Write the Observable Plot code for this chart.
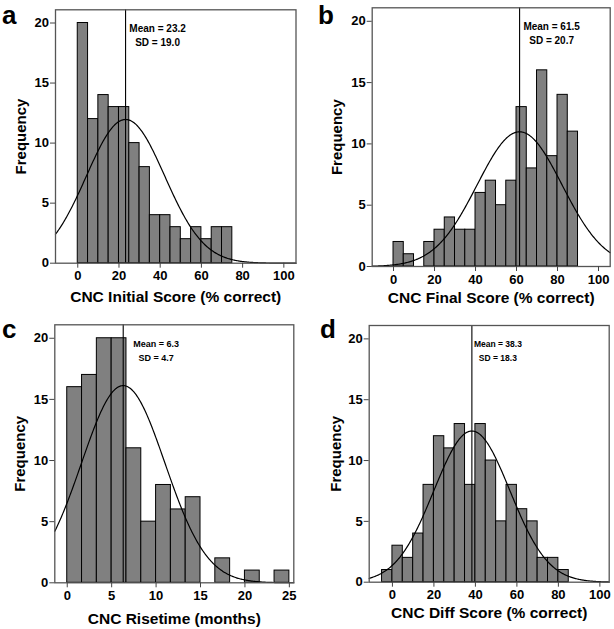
<!DOCTYPE html>
<html><head><meta charset="utf-8">
<script src="https://cdn.jsdelivr.net/npm/d3@7"></script>
<script src="https://cdn.jsdelivr.net/npm/@observablehq/plot@0.6"></script>
<style>
body{margin:0;background:#fff;}
#wrap{position:relative;width:614px;height:629px;font-family:"Liberation Sans",Arial,sans-serif;background:#fff;}
.panel{position:absolute;}
.letter{position:absolute;font-weight:bold;font-size:26px;line-height:normal;color:#000;}
</style></head><body><div id="wrap"></div>
<script>
// ---- data ----
const panelLetters = ["a", "b", "c", "d"];
const xLabels = ["CNC Initial Score (% correct)", "CNC Final Score (% correct)", "CNC Risetime (months)", "CNC Diff Score (% correct)"];
const means = [23.2, 61.5, 6.3, 38.3];
const sds = [19.0, 20.7, 4.7, 18.3];
const binStarts = [0, 0, 0, -5];
const binWidths = [5, 5, 5 / 3, 5];
const initialCounts = [20, 12, 14, 13, 13, 10, 8, 4, 4, 3, 2, 3, 2, 3, 3];
const finalCounts = [2, 1, 0, 2, 3, 4, 3, 3, 6, 7, 5, 7, 13, 8, 16, 9, 14, 11];
const risetimeCounts = [16, 17, 20, 20, 11, 5, 8, 6, 7, 0, 2, 0, 1, 0, 1];
const diffCounts = [1, 3, 2, 4, 8, 12, 11, 13, 8, 13, 10, 5, 8, 6, 5, 2, 2, 1];
const scoreTicks = [0, 20, 40, 60, 80, 100];
const risetimeTicks = [0, 5, 10, 15, 20, 25];
const freqTicks = [0, 5, 10, 15, 20];
const xDomains = [[-10.8, 105.9], [-10.4, 105.7], [-1.4, 25.5], [-11.2, 104.5]];
const yDomain = [0, 21.1];

// ---- layout ----
const layout = [
  {left: 0, top: 0, h: 310, m: [9.3, 11.5, 47.3, 55], yLab: -34, xLab: 34.3, statDx: 32, statSize: 10, letter: [2, 0]},
  {left: 307, top: 0, h: 310, m: [7.3, 4.3, 44, 64.7], yLab: -34.7, xLab: 32, statDx: 32, statSize: 10, letter: [318, 0]},
  {left: 0, top: 310, h: 319, m: [14.3, 13.7, 46.7, 54.3], yLab: -34.3, xLab: 36.7, statDx: 33, statSize: 9, letter: [2, 314]},
  {left: 307, top: 310, h: 319, m: [15, 5.3, 47.3, 61.7], yLab: -33.4, xLab: 31, statDx: 26, statSize: 8.5, letter: [320, 314]}
];
const allCounts = [initialCounts, finalCounts, risetimeCounts, diffCounts];
const allTicks = [scoreTicks, scoreTicks, risetimeTicks, scoreTicks];

const wrap = document.getElementById("wrap");

allCounts.forEach((counts, k) => {
  const L = layout[k];
  const start = binStarts[k], w = binWidths[k], mean = means[k], sd = sds[k];
  const bins = counts.map((c, i) => ({x1: start + i * w, x2: start + (i + 1) * w, n: c})).filter(d => d.n > 0);
  const N = d3.sum(counts);
  const [x0, x1] = xDomains[k];
  const peak = N * w / (sd * Math.sqrt(2 * Math.PI));
  const curve = d3.range(0, 301).map(i => {
    const x = x0 + i * (x1 - x0) / 300;
    return {x, y: peak * Math.exp(-0.5 * ((x - mean) / sd) ** 2)};
  });
  const stat = [{m: mean, t: `Mean = ${mean.toFixed(1)}\nSD = ${sd.toFixed(1)}`}];
  const chart = Plot.plot({
    width: 307, height: L.h,
    marginTop: L.m[0], marginRight: L.m[1], marginBottom: L.m[2], marginLeft: L.m[3],
    x: {domain: xDomains[k]},
    y: {domain: yDomain},
    style: {fontFamily: "'Liberation Sans', Arial, sans-serif", fontWeight: "bold", color: "#000", background: "#fff", overflow: "visible"},
    marks: [
      Plot.rectY(bins, {x1: "x1", x2: "x2", y: "n", fill: "#808080", stroke: "#000", strokeWidth: 1}),
      Plot.line(curve, {x: "x", y: "y", stroke: "#000", strokeWidth: 1.2}),
      Plot.ruleX([mean], {stroke: "#000", strokeWidth: 1.1}),
      Plot.frame({stroke: "#555", strokeWidth: 1.3}),
      Plot.axisX({ticks: allTicks[k], tickSize: 5, tickPadding: 3, fontSize: 13, label: null, stroke: "#444"}),
      Plot.axisY({ticks: freqTicks, tickSize: 5, tickPadding: 1.5, fontSize: 13, label: null, stroke: "#444"}),
      Plot.text(stat, {x: "m", text: "t", frameAnchor: "top", dx: L.statDx, dy: 24.5, lineAnchor: "middle", fontSize: L.statSize, lineHeight: 14 / L.statSize, textAnchor: "middle"}),
      Plot.text(["Frequency"], {frameAnchor: "left", rotate: -90, dx: L.yLab, fontSize: 15, lineAnchor: "middle", textAnchor: "middle"}),
      Plot.text([xLabels[k]], {frameAnchor: "bottom", dy: L.xLab, fontSize: 15.5, lineAnchor: "middle", textAnchor: "middle"})
    ]
  });
  const div = document.createElement("div");
  div.className = "panel";
  div.style.left = L.left + "px";
  div.style.top = L.top + "px";
  div.appendChild(chart);
  wrap.appendChild(div);
  const let_ = document.createElement("div");
  let_.className = "letter";
  let_.textContent = panelLetters[k];
  let_.style.left = L.letter[0] + "px";
  let_.style.top = L.letter[1] + "px";
  wrap.appendChild(let_);
});
</script></body></html>
